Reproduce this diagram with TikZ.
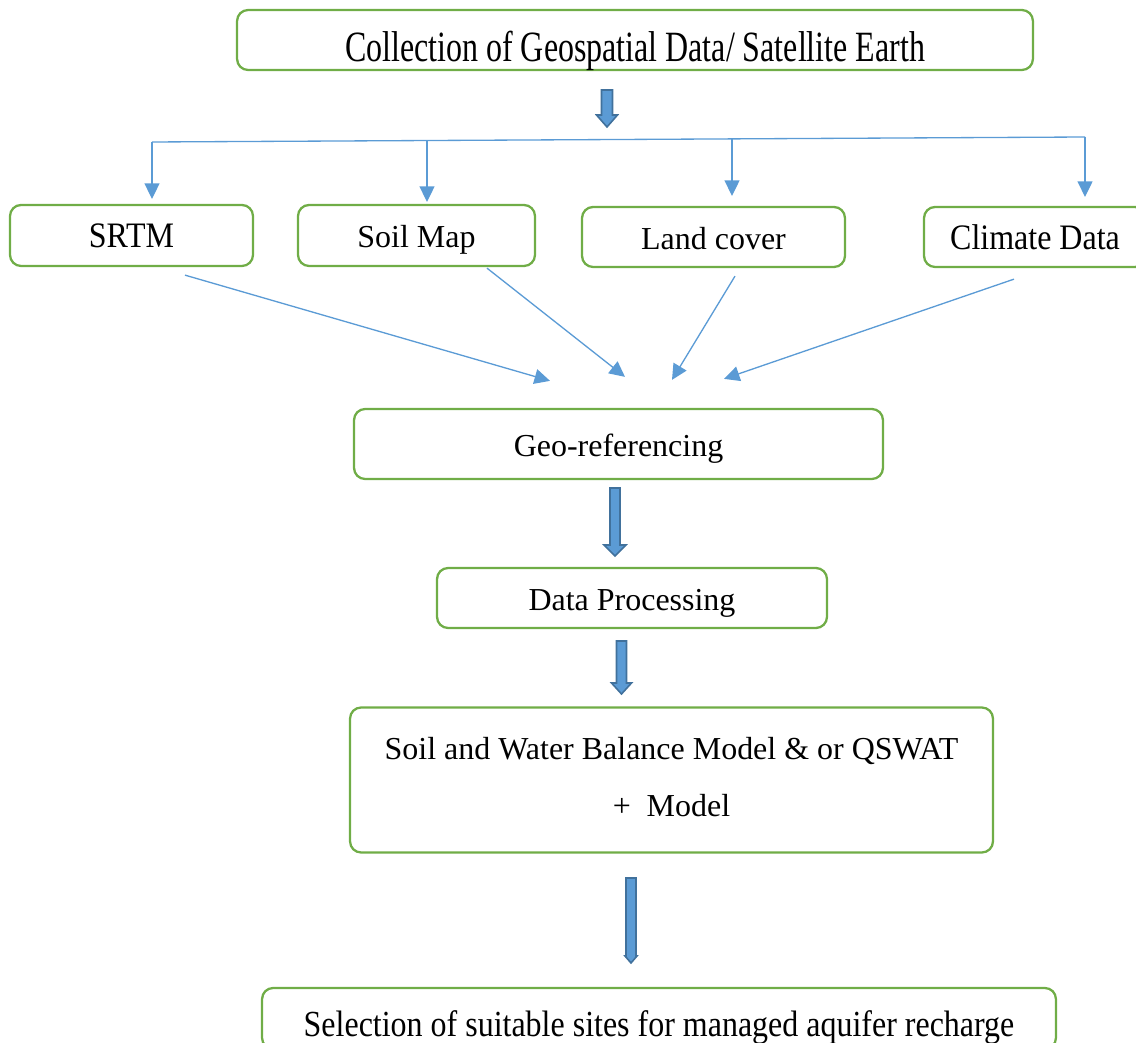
\documentclass[tikz,border=0pt]{standalone}
\usepackage{graphicx}
\usepackage{fontspec}
\setmainfont{Liberation Serif}
\usetikzlibrary{arrows.meta}

\definecolor{boxgreen}{HTML}{70AD47}
\definecolor{flowblue}{HTML}{5B9BD5}
\definecolor{flowedge}{HTML}{41719C}

\tikzset{
  boxline/.style={draw=boxgreen, line width=1.3pt, rounded corners=0.22cm, inner sep=0pt,
    minimum height=1.22cm, font=\fontsize{18.2}{22}\selectfont},
  stepbox/.style={boxline, text height=16pt, text depth=2pt},
  flowline/.style={draw=flowblue, line width=0.75pt},
  flowarrow/.style={flowline, -{Triangle[length=0.31cm,width=0.3cm]}},
  fatarrow/.style={fill=flowblue, draw=flowedge, line width=0.9pt}
}

% block arrow pointing down: x, top, bottom, shaft half width, head half width, head length
\newcommand{\blockdown}[6]{%
  \filldraw[fatarrow] (#1-#4,#2) -- (#1+#4,#2) -- (#1+#4,#3-#6) -- (#1+#5,#3-#6)
    -- (#1,#3) -- (#1-#5,#3-#6) -- (#1-#4,#3-#6) -- cycle;}

\begin{document}
\begin{tikzpicture}[x=0.02cm, y=-0.02cm]
  \useasboundingbox (0,0) rectangle (1136,1043);

  % boxes
  \node[stepbox, minimum width=15.92cm, minimum height=1.2cm, text height=25pt, text depth=0pt] (collect) at (635,40)
    {\scalebox{1}[1.35]{Collection of Geospatial Data/ Satellite Earth}};
  \node[stepbox, minimum width=4.86cm] (srtm) at (131.5,235.5) {\scalebox{1}[1.12]{SRTM}};
  \node[stepbox, minimum width=4.74cm] (soilmap) at (416.5,235.5) {Soil Map};
  \node[stepbox, minimum width=5.26cm, minimum height=1.2cm] (landcover) at (713.5,237) {Land cover};
  \node[stepbox, minimum width=4.44cm, minimum height=1.2cm] (climate) at (1035,237) {\scalebox{1}[1.12]{Climate Data}};
  \node[stepbox, minimum width=10.58cm, minimum height=1.4cm] (georef) at (618.5,444) {Geo-referencing};
  \node[stepbox, minimum width=7.8cm, minimum height=1.2cm] (dataproc) at (632,598) {Data Processing};
  \node[boxline, minimum width=12.86cm, minimum height=2.9cm, align=center,
    font=\fontsize{18.2}{32.4}\selectfont, text depth=4pt] (model) at (671.5,780)
    {Soil and Water Balance Model \& or QSWAT\\+\ \ Model};
  \node[stepbox, minimum width=15.88cm, text height=21pt, text depth=0pt] (selection) at (659,1018.5)
    {\scalebox{1}[1.15]{Selection of suitable sites for managed aquifer recharge}};

  % fork to the four data sources
  \coordinate (fork1) at (152,142);
  \coordinate (fork2) at (427,140.5);
  \coordinate (fork3) at (732,139);
  \coordinate (fork4) at (1085,137);
  \draw[flowline] (fork1) -- (fork4);
  \draw[flowarrow, shorten >=0.1cm] (fork1) -- (fork1 |- srtm.north);
  \draw[flowarrow, shorten >=0.04cm] (fork2) -- (fork2 |- soilmap.north);
  \draw[flowarrow, shorten >=0.2cm] (fork3) -- (fork3 |- landcover.north);
  \draw[flowarrow, shorten >=0.18cm] (fork4) -- (fork4 |- climate.north);

  % sources into geo-referencing
  \draw[flowarrow] ([xshift=1.07cm, yshift=-0.16cm]srtm.south) -- ([xshift=-1.37cm, yshift=0.54cm]georef.north);
  \draw[flowarrow] ([xshift=1.41cm, yshift=-0.02cm]soilmap.south) -- ([xshift=0.13cm, yshift=0.62cm]georef.north);
  \draw[flowarrow] ([xshift=0.43cm, yshift=-0.16cm]landcover.south) -- ([xshift=1.07cm, yshift=0.56cm]georef.north);
  \draw[flowarrow] ([xshift=-0.42cm, yshift=-0.22cm]climate.south) -- ([xshift=2.11cm, yshift=0.58cm]georef.north);

  % block arrows
  \blockdown{607}{90}{127}{5.5}{10.5}{12}
  \blockdown{615}{488}{556}{5}{11}{11}
  \blockdown{621.5}{641}{694}{5}{10}{11}
  \blockdown{631}{878}{963}{5}{6}{7}
\end{tikzpicture}
\end{document}
